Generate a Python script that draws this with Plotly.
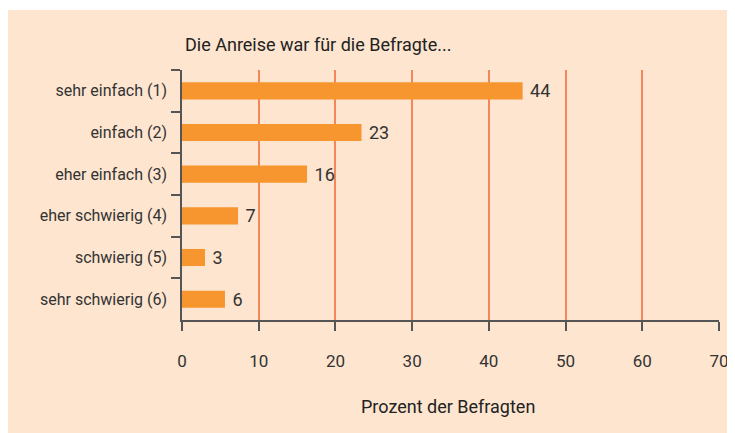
import plotly.graph_objects as go

categories = ["sehr einfach (1)", "einfach (2)", "eher einfach (3)",
              "eher schwierig (4)", "schwierig (5)", "sehr schwierig (6)"]
values = [44.4, 23.4, 16.3, 7.3, 3.0, 5.6]
labels = ["44", "23", "16", "7", "3", "6"]
x_ticks = [0, 10, 20, 30, 40, 50, 60, 70]

title_text = "Die Anreise war für die Befragte..."
x_title = "Prozent der Befragten"

FONT = "Roboto, Liberation Sans, sans-serif"
TXT = "#333333"
BG = "#fde5cf"
BAR = "#f7962f"
GRID = "#f4875a"
AX = "#555555"

# the page body adds an 8px offset; figure is sized to fit the window
OFF = 8
W, H = 735 - OFF, 433 - OFF
L, R, T, B = 182 - OFF, 16, 70 - OFF, 113
pw = W - L - R
ph = H - T - B

def px2x(p):
    return (p - OFF - L) / pw

def py2y(p):
    return (H - B - (p - OFF)) / ph

fig = go.Figure()
fig.add_trace(go.Bar(
    x=values, y=categories, orientation="h",
    marker=dict(color=BAR, line=dict(width=0)),
    text=[" " + s for s in labels], textposition="outside",
    constraintext="none",
    textfont=dict(family=FONT, size=18, color=TXT),
    cliponaxis=False, width=0.41,
))

fig.add_shape(type="rect", xref="paper", yref="paper",
              x0=px2x(0), x1=px2x(760), y0=py2y(460), y1=py2y(10),
              fillcolor=BG, line=dict(width=0), layer="below")

fig.add_annotation(text=x_title, xref="paper", yref="paper",
                   x=px2x(448), y=py2y(407), xanchor="center", yanchor="middle",
                   showarrow=False, font=dict(family=FONT, size=18, color="#222222"))

fig.update_layout(
    width=W, height=H,
    margin=dict(l=L, r=R, t=T, b=B, pad=0, autoexpand=False),
    paper_bgcolor="white", plot_bgcolor=BG,
    showlegend=False,
    title=dict(text=title_text, xref="container", yref="container",
               x=(185 - OFF) / W, y=1 - (45 - OFF) / H, xanchor="left", yanchor="middle",
               font=dict(family=FONT, size=18, color="#222222")),
    font=dict(family=FONT, size=17, color=TXT),
    xaxis=dict(range=[0, 70], tickvals=x_ticks, showgrid=True, gridcolor=GRID,
               gridwidth=1.5, zeroline=False, showline=True, linecolor=AX,
               linewidth=1.5, ticks="outside", ticklen=9, tickwidth=1.5,
               tickcolor=AX, ticklabelstandoff=16, automargin=False,
               tickfont=dict(family=FONT, size=17, color=TXT), fixedrange=True),
    yaxis=dict(categoryorder="array", categoryarray=categories, autorange="reversed",
               showgrid=False, showline=True, linecolor=AX, linewidth=1.5,
               ticks="outside", ticklen=9, tickwidth=1.5, tickcolor=AX,
               tickson="boundaries", ticklabelstandoff=10, automargin=False,
               tickfont=dict(family=FONT, size=16, color=TXT), fixedrange=True),
)

fig.write_html("out.html")
